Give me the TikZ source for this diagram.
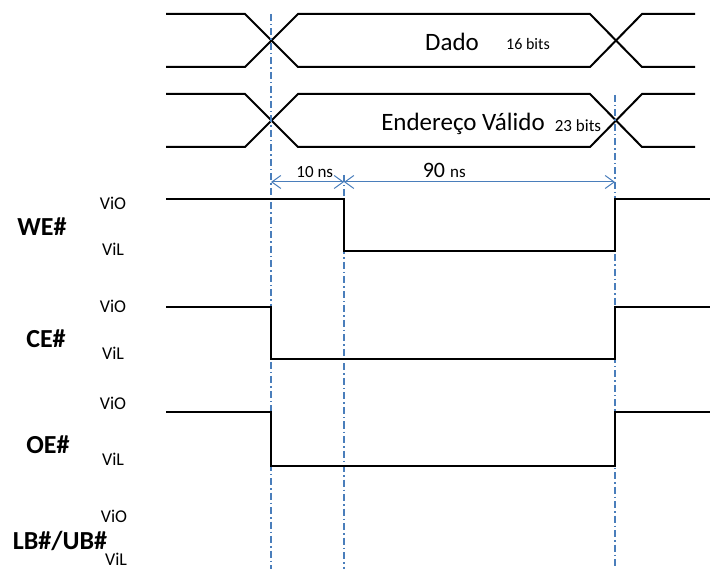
\documentclass[tikz,border=0pt]{standalone}
\usepackage{fontspec}
\setmainfont{Carlito}
\usetikzlibrary{arrows.meta,calc}
\definecolor{guideblue}{HTML}{4A7EBB}
\definecolor{textblack}{HTML}{000000}

\begin{document}
\begin{tikzpicture}[
    x=1pt, y=-1pt,
    every node/.style={text=textblack, inner sep=0pt},
    wave/.style={line width=2pt, line join=miter},
    guide/.style={guideblue, line width=1.1pt,
        dash pattern=on 7pt off 3pt on 1.5pt off 3pt},
    dimline/.style={
        {Straight Barb[length=9pt,width=13pt]}-{Straight Barb[length=9pt,width=13pt]},
        guideblue, line width=1pt},
    buslabel/.style={font=\fontsize{25}{25}\selectfont},
    buswidth/.style={font=\fontsize{16}{16}\selectfont},
    level/.style={font=\fontsize{18}{18}\selectfont},
    signame/.style={font=\bfseries\fontsize{26}{26}\selectfont}
]
\useasboundingbox (0,0) rectangle (710,569);

% instantes de tempo
\coordinate (t0) at (271,0);
\coordinate (t1) at (344,0);
\coordinate (t2) at (615,0);

% barramento de dados
\draw[wave] (166,14) -- (245,14) -- (298,67) -- (590,67) -- (642,14) -- (695,14);
\draw[wave] (166,67) -- (245,67) -- (298,14) -- (590,14) -- (642,67) -- (695,67);
\node[buslabel] (dado) at (452,42) {Dado};
\node[buswidth] (dadobits) at (528,44) {16 bits};

% barramento de enderecos
\draw[wave] (166,94) -- (245,94) -- (298,147) -- (590,147) -- (642,94) -- (695,94);
\draw[wave] (166,147) -- (245,147) -- (298,94) -- (590,94) -- (642,147) -- (695,147);
\node[buslabel] (endereco) at (463,124) {Endereço Válido};
\node[buswidth, font=\fontsize{17}{17}\selectfont] (enderecobits) at (578,126) {23 bits};

% linhas de referencia
\draw[guide] ($(t0)+(0,14)$) -- ($(t0)+(0,569)$);
\draw[guide] ($(t1)+(0,175)$) -- ($(t1)+(0,569)$);
\draw[guide] ($(t2)+(0,95)$) -- ($(t2)+(0,569)$);

% tempos
\coordinate (dimA) at ($(t0)+(0,182)$);
\coordinate (dimB) at ($(t1)+(0,182)$);
\coordinate (dimC) at ($(t2)+(0,182)$);
\draw[dimline] (dimA) -- node[above=4pt, pos=0.6, font=\fontsize{17}{17}\selectfont] (tsetup) {10 ns} (dimB);
\draw[dimline] (dimB) -- node[above=4pt, pos=0.37] (twrite) {{\fontsize{22}{22}\selectfont 90 }{\fontsize{17}{17}\selectfont ns}} (dimC);

% WE#
\draw[wave] (166,199) -- ($(t1)+(0,199)$) -- ($(t1)+(0,251)$) -- ($(t2)+(0,251)$) -- ($(t2)+(0,199)$) -- (710,199);
\node[signame] (we) at (42,227) {WE\#};
\node[level] (weh) at (113,203) {ViO};
\node[level] (wel) at (113,249) {ViL};

% CE#
\draw[wave] (166,307) -- ($(t0)+(0,307)$) -- ($(t0)+(0,359)$) -- ($(t2)+(0,359)$) -- ($(t2)+(0,307)$) -- (710,307);
\node[signame] (ce) at (46,339) {CE\#};
\node[level] (ceh) at (113,306) {ViO};
\node[level] (cel) at (113,353) {ViL};

% OE#
\draw[wave] (166,412) -- ($(t0)+(0,412)$) -- ($(t0)+(0,466)$) -- ($(t2)+(0,466)$) -- ($(t2)+(0,412)$) -- (710,412);
\node[signame] (oe) at (48,445) {OE\#};
\node[level] (oeh) at (113,403) {ViO};
\node[level] (oel) at (113,459) {ViL};

% LB#/UB#
\node[signame] (lbub) at (60,541) {LB\#/UB\#};
\node[level] (lbubh) at (114,516) {ViO};
\node[level] (lbubl) at (116,559) {ViL};

\end{tikzpicture}
\end{document}
